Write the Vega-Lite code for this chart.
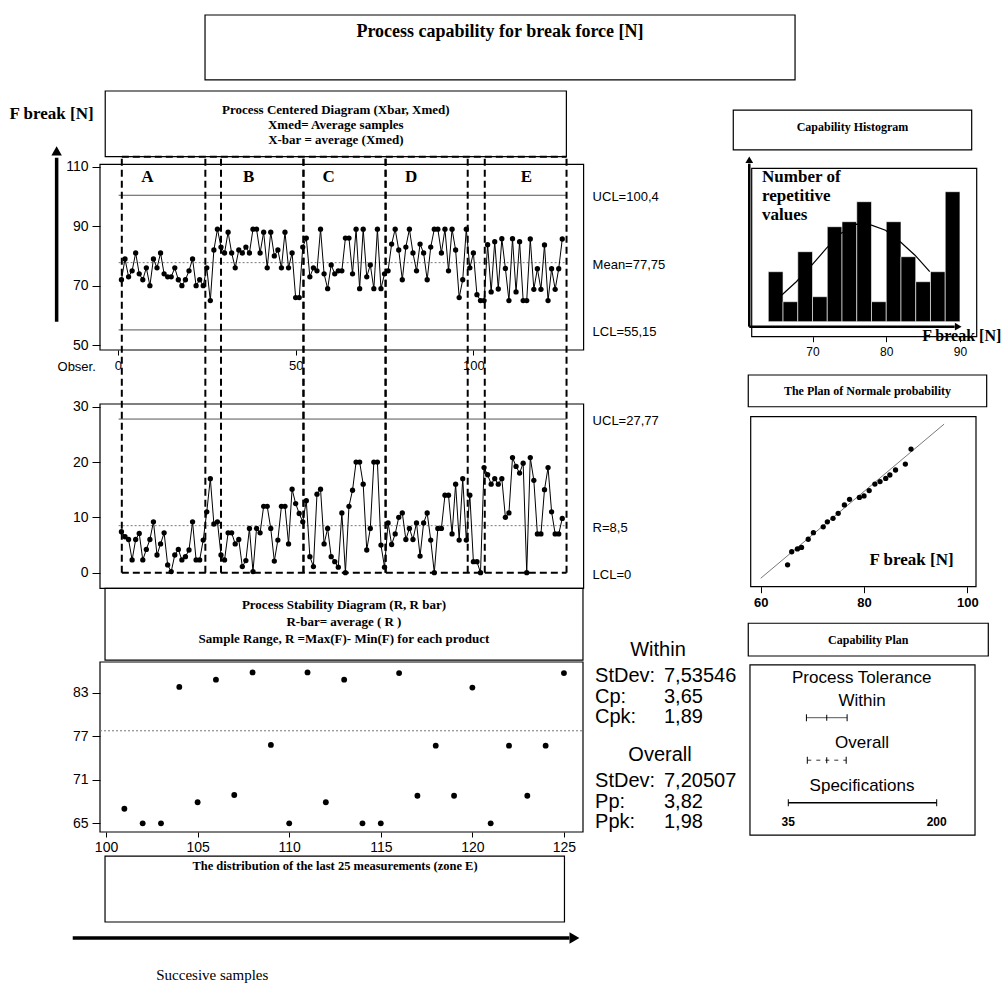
{
  "$schema": "https://vega.github.io/schema/vega-lite/v6.json",
  "width": 1006,
  "height": 986,
  "padding": 0,
  "autosize": {"type": "none"},
  "background": "white",
  "config": {
    "view": {"stroke": null},
    "text": {"font": "Liberation Sans", "color": "black"},
    "axis": {"labelFont": "Liberation Sans", "labelColor": "black", "tickColor": "black", "domain": false, "grid": false}
  },
  "datasets": {
    "blank": [{}],
    "samples": [
      {"obs":1,"xmed":72,"r":7.4},{"obs":2,"xmed":79,"r":6.5},{"obs":3,"xmed":73,"r":6},{"obs":4,"xmed":75,"r":2.3},{"obs":5,"xmed":81,"r":6},
      {"obs":6,"xmed":74,"r":7.1},{"obs":7,"xmed":72,"r":2.3},{"obs":8,"xmed":76,"r":4.2},{"obs":9,"xmed":70,"r":6},{"obs":10,"xmed":79,"r":9.2},
      {"obs":11,"xmed":76,"r":3.2},{"obs":12,"xmed":81,"r":5.2},{"obs":13,"xmed":74,"r":7.2},{"obs":14,"xmed":73,"r":1.4},{"obs":15,"xmed":73,"r":0.2},
      {"obs":16,"xmed":76,"r":3.2},{"obs":17,"xmed":72,"r":4.2},{"obs":18,"xmed":70,"r":2.3},{"obs":19,"xmed":72,"r":2.9},{"obs":20,"xmed":75,"r":4.1},
      {"obs":21,"xmed":79,"r":9.2},{"obs":22,"xmed":70,"r":2.3},{"obs":23,"xmed":72,"r":2.3},{"obs":24,"xmed":70,"r":5.9},{"obs":25,"xmed":76,"r":11},
      {"obs":26,"xmed":65,"r":17},{"obs":27,"xmed":82,"r":8.8},{"obs":28,"xmed":89,"r":9.2},{"obs":29,"xmed":83,"r":3.2},{"obs":30,"xmed":81,"r":2.3},
      {"obs":31,"xmed":88,"r":7.2},{"obs":32,"xmed":81,"r":7.2},{"obs":33,"xmed":76,"r":5.2},{"obs":34,"xmed":82,"r":6},{"obs":35,"xmed":81,"r":1.1},
      {"obs":36,"xmed":83,"r":2.2},{"obs":37,"xmed":81,"r":8},{"obs":38,"xmed":89,"r":0.2},{"obs":39,"xmed":89,"r":8},{"obs":40,"xmed":81,"r":7.2},
      {"obs":41,"xmed":88,"r":12},{"obs":42,"xmed":76,"r":12},{"obs":43,"xmed":88,"r":8},{"obs":44,"xmed":80,"r":2.1},{"obs":45,"xmed":82,"r":5.9},
      {"obs":46,"xmed":76,"r":12},{"obs":47,"xmed":88,"r":12},{"obs":48,"xmed":76,"r":5.2},{"obs":49,"xmed":81,"r":15.1},{"obs":50,"xmed":66,"r":12.5},
      {"obs":51,"xmed":66,"r":10.7},{"obs":52,"xmed":83,"r":9.2},{"obs":53,"xmed":86,"r":13},{"obs":54,"xmed":73,"r":2.9},{"obs":55,"xmed":76,"r":1.1},
      {"obs":56,"xmed":75,"r":14.2},{"obs":57,"xmed":89,"r":15.1},{"obs":58,"xmed":74,"r":5.2},{"obs":59,"xmed":69,"r":8},{"obs":60,"xmed":77,"r":2.9},
      {"obs":61,"xmed":74,"r":2},{"obs":62,"xmed":75,"r":1},{"obs":63,"xmed":75,"r":10.8},{"obs":64,"xmed":86,"r":0},{"obs":65,"xmed":86,"r":12},
      {"obs":66,"xmed":74,"r":14.9},{"obs":67,"xmed":89,"r":20},{"obs":68,"xmed":69,"r":20},{"obs":69,"xmed":89,"r":16},{"obs":70,"xmed":73,"r":4.1},
      {"obs":71,"xmed":77,"r":8},{"obs":72,"xmed":69,"r":20},{"obs":73,"xmed":89,"r":20},{"obs":74,"xmed":69,"r":5},{"obs":75,"xmed":74,"r":1},
      {"obs":76,"xmed":75,"r":9},{"obs":77,"xmed":84,"r":5.1},{"obs":78,"xmed":89,"r":7},{"obs":79,"xmed":82,"r":10},{"obs":80,"xmed":72,"r":10.8},
      {"obs":81,"xmed":83,"r":6},{"obs":82,"xmed":89,"r":8},{"obs":83,"xmed":81,"r":6},{"obs":84,"xmed":75,"r":9},{"obs":85,"xmed":84,"r":3},
      {"obs":86,"xmed":81,"r":9},{"obs":87,"xmed":72,"r":10.8},{"obs":88,"xmed":83,"r":5.9},{"obs":89,"xmed":89,"r":0},{"obs":90,"xmed":89,"r":8},
      {"obs":91,"xmed":81,"r":8},{"obs":92,"xmed":89,"r":14},{"obs":93,"xmed":75,"r":14},{"obs":94,"xmed":89,"r":7},{"obs":95,"xmed":82,"r":16},
      {"obs":96,"xmed":66,"r":5.9},{"obs":97,"xmed":72,"r":17},{"obs":98,"xmed":89,"r":5.9},{"obs":99,"xmed":76,"r":14},{"obs":100,"xmed":81,"r":2},
      {"obs":101,"xmed":67,"r":2},{"obs":102,"xmed":65,"r":0},{"obs":103,"xmed":65,"r":19},{"obs":104,"xmed":83.8,"r":17.7},{"obs":105,"xmed":67.9,"r":16},
      {"obs":106,"xmed":84.8,"r":17},{"obs":107,"xmed":68.9,"r":16},{"obs":108,"xmed":85.8,"r":17},{"obs":109,"xmed":75.8,"r":10},{"obs":110,"xmed":65,"r":10.8},
      {"obs":111,"xmed":85.8,"r":20.8},{"obs":112,"xmed":67.9,"r":19.2},{"obs":113,"xmed":84.8,"r":18},{"obs":114,"xmed":65,"r":19.8},{"obs":115,"xmed":65,"r":0},
      {"obs":116,"xmed":85.7,"r":20.8},{"obs":117,"xmed":68.8,"r":16.7},{"obs":118,"xmed":75.7,"r":7},{"obs":119,"xmed":68.8,"r":7},{"obs":120,"xmed":83.7,"r":15},
      {"obs":121,"xmed":65,"r":19},{"obs":122,"xmed":75.7,"r":11},{"obs":123,"xmed":68.8,"r":7},{"obs":124,"xmed":75.7,"r":7},{"obs":125,"xmed":85.7,"r":9.8}
    ],
    "limits": [
      {"chart":"xbar","name":"UCL","value":100.4,"label":"UCL=100,4"},
      {"chart":"xbar","name":"Mean","value":77.75,"label":"Mean=77,75"},
      {"chart":"xbar","name":"LCL","value":55.15,"label":"LCL=55,15"},
      {"chart":"r","name":"UCL","value":27.77,"label":"UCL=27,77"},
      {"chart":"r","name":"Mean","value":8.5,"label":"R=8,5"},
      {"chart":"r","name":"LCL","value":0,"label":"LCL=0"}
    ],
    "zones": [
      {"zone":"A","from":1.1,"to":24.6,"mid":8.3},
      {"zone":"B","from":29,"to":52.2,"mid":36.8},
      {"zone":"C","from":52.2,"to":75.3,"mid":59.3},
      {"zone":"D","from":75.3,"to":98.4,"mid":82.5},
      {"zone":"E","from":103.2,"to":126.2,"mid":114.9}
    ],
    "hist": [
      {"bin_start":64,"bin_end":66,"count":10},{"bin_start":66,"bin_end":68,"count":4},{"bin_start":68,"bin_end":70,"count":14},
      {"bin_start":70,"bin_end":72,"count":5},{"bin_start":72,"bin_end":74,"count":19},{"bin_start":74,"bin_end":76,"count":20},
      {"bin_start":76,"bin_end":78,"count":24},{"bin_start":78,"bin_end":80,"count":4},{"bin_start":80,"bin_end":82,"count":20},
      {"bin_start":82,"bin_end":84,"count":13},{"bin_start":84,"bin_end":86,"count":8},{"bin_start":86,"bin_end":88,"count":10},
      {"bin_start":88,"bin_end":90,"count":26}
    ],
    "curve": [
      {"fb":65.8,"freq":5.3},{"fb":67.8,"freq":8},{"fb":69.9,"freq":11.3},{"fb":71.9,"freq":14.7},{"fb":73.9,"freq":17.7},
      {"fb":75.9,"freq":19.5},{"fb":78,"freq":19.3},{"fb":79.9,"freq":18.3},{"fb":81.9,"freq":16},{"fb":83.9,"freq":13.3},{"fb":85.9,"freq":10}
    ],
    "normal": [
      {"fb":65.2,"z":-2.04},{"fb":66,"z":-1.62},{"fb":67.1,"z":-1.53},{"fb":67.9,"z":-1.48},{"fb":69.2,"z":-1.22},{"fb":70.2,"z":-1.01},
      {"fb":72.1,"z":-0.82},{"fb":72.9,"z":-0.66},{"fb":74,"z":-0.55},{"fb":75,"z":-0.39},{"fb":76.2,"z":-0.12},{"fb":77.2,"z":0.06},
      {"fb":79.1,"z":0.12},{"fb":80,"z":0.17},{"fb":81,"z":0.34},{"fb":82.1,"z":0.55},{"fb":83.1,"z":0.63},{"fb":84.2,"z":0.73},
      {"fb":85,"z":0.84},{"fb":86.1,"z":1.0},{"fb":88,"z":1.19},{"fb":89.1,"z":1.67}
    ],
    "normline": [{"fb":60,"z":-2.47},{"fb":95.5,"z":2.47}],
    "tolerance": [
      {"kind":"Within","lo":55.15,"mid":77.75,"hi":100.4},
      {"kind":"Overall","lo":56.13,"mid":77.75,"hi":99.37},
      {"kind":"Specifications","lo":35,"hi":200}
    ]
  },
  "layer": [
    {"data":{"name":"blank"},"mark":{"type":"rect","filled":false,"stroke":"black","strokeWidth":1.2},
     "encoding":{"x":{"datum":20.38,"type":"quantitative","scale":{"domain":[0,100],"range":[0,1006],"nice":false,"zero":false},"axis":null},"x2":{"datum":79.03},
                 "y":{"datum":1.52,"type":"quantitative","scale":{"domain":[0,100],"range":[0,986],"nice":false,"zero":false},"axis":null},"y2":{"datum":8.11}}},
    {"data":{"name":"blank"},"mark":{"type":"text","text":"Process capability for break force [N]","font":"Liberation Serif","fontWeight":"bold","fontSize":18,"align":"center","baseline":"middle"},
     "encoding":{"x":{"datum":49.7,"type":"quantitative","scale":{"domain":[0,100],"range":[0,1006],"nice":false,"zero":false},"axis":null},
                 "y":{"datum":3.25,"type":"quantitative","scale":{"domain":[0,100],"range":[0,986],"nice":false,"zero":false},"axis":null}}},
    {"data":{"name":"blank"},"mark":{"type":"text","text":"F break [N]","font":"Liberation Serif","fontWeight":"bold","fontSize":17,"align":"left","baseline":"middle"},
     "encoding":{"x":{"datum":0.95,"type":"quantitative","scale":{"domain":[0,100],"range":[0,1006],"nice":false,"zero":false},"axis":null},
                 "y":{"datum":11.56,"type":"quantitative","scale":{"domain":[0,100],"range":[0,986],"nice":false,"zero":false},"axis":null}}},
    {"data":{"name":"blank"},"mark":{"type":"rule","stroke":"black","strokeWidth":3.5},
     "encoding":{"x":{"datum":5.63,"type":"quantitative","scale":{"domain":[0,100],"range":[0,1006],"nice":false,"zero":false},"axis":null},
                 "y":{"datum":32.63,"type":"quantitative","scale":{"domain":[0,100],"range":[0,986],"nice":false,"zero":false},"axis":null},"y2":{"datum":16.0}}},
    {"data":{"name":"blank"},"mark":{"type":"point","shape":"triangle-up","filled":true,"color":"black","size":110,"opacity":1},
     "encoding":{"x":{"datum":5.63,"type":"quantitative","scale":{"domain":[0,100],"range":[0,1006],"nice":false,"zero":false},"axis":null},
                 "y":{"datum":15.3,"type":"quantitative","scale":{"domain":[0,100],"range":[0,986],"nice":false,"zero":false},"axis":null}}},
    {"data":{"name":"blank"},"mark":{"type":"rect","filled":false,"stroke":"black","strokeWidth":1.2},
     "encoding":{"x":{"datum":10.46,"type":"quantitative","scale":{"domain":[0,100],"range":[0,1006],"nice":false,"zero":false},"axis":null},"x2":{"datum":56.3},
                 "y":{"datum":9.23,"type":"quantitative","scale":{"domain":[0,100],"range":[0,986],"nice":false,"zero":false},"axis":null},"y2":{"datum":15.89}}},
    {"data":{"name":"blank"},"mark":{"type":"text","text":["Process Centered Diagram (Xbar, Xmed)","Xmed= Average samples","X-bar = average (Xmed)"],"font":"Liberation Serif","fontWeight":"bold","fontSize":13,"lineHeight":15,"align":"center","baseline":"middle"},
     "encoding":{"x":{"datum":33.38,"type":"quantitative","scale":{"domain":[0,100],"range":[0,1006],"nice":false,"zero":false},"axis":null},
                 "y":{"datum":11.16,"type":"quantitative","scale":{"domain":[0,100],"range":[0,986],"nice":false,"zero":false},"axis":null}}},
    {"data":{"name":"blank"},"mark":{"type":"text","text":"Obser.","fontSize":13,"align":"center","baseline":"middle"},
     "encoding":{"x":{"datum":7.62,"type":"quantitative","scale":{"domain":[0,100],"range":[0,1006],"nice":false,"zero":false},"axis":null},
                 "y":{"datum":37.19,"type":"quantitative","scale":{"domain":[0,100],"range":[0,986],"nice":false,"zero":false},"axis":null}}},
    {"data":{"name":"blank"},"mark":{"type":"rect","filled":false,"stroke":"black","strokeWidth":1.2},
     "encoding":{"x":{"datum":10.44,"type":"quantitative","scale":{"domain":[0,100],"range":[0,1006],"nice":false,"zero":false},"axis":null},"x2":{"datum":57.95},
                 "y":{"datum":59.67,"type":"quantitative","scale":{"domain":[0,100],"range":[0,986],"nice":false,"zero":false},"axis":null},"y2":{"datum":66.94}}},
    {"data":{"name":"blank"},"mark":{"type":"text","text":["Process Stability Diagram (R, R bar)","R-bar= average ( R )","Sample  Range, R =Max(F)- Min(F) for each product"],"font":"Liberation Serif","fontWeight":"bold","fontSize":13,"lineHeight":17,"align":"center","baseline":"middle"},
     "encoding":{"x":{"datum":34.19,"type":"quantitative","scale":{"domain":[0,100],"range":[0,1006],"nice":false,"zero":false},"axis":null},
                 "y":{"datum":61.36,"type":"quantitative","scale":{"domain":[0,100],"range":[0,986],"nice":false,"zero":false},"axis":null}}},
    {"data":{"name":"blank"},"mark":{"type":"rect","filled":false,"stroke":"black","strokeWidth":1.2},
     "encoding":{"x":{"datum":10.44,"type":"quantitative","scale":{"domain":[0,100],"range":[0,1006],"nice":false,"zero":false},"axis":null},"x2":{"datum":56.11},
                 "y":{"datum":86.82,"type":"quantitative","scale":{"domain":[0,100],"range":[0,986],"nice":false,"zero":false},"axis":null},"y2":{"datum":93.51}}},
    {"data":{"name":"blank"},"mark":{"type":"text","text":"The distribution of the last 25 measurements (zone E)","font":"Liberation Serif","fontWeight":"bold","fontSize":12.5,"align":"center","baseline":"middle"},
     "encoding":{"x":{"datum":33.3,"type":"quantitative","scale":{"domain":[0,100],"range":[0,1006],"nice":false,"zero":false},"axis":null},
                 "y":{"datum":87.83,"type":"quantitative","scale":{"domain":[0,100],"range":[0,986],"nice":false,"zero":false},"axis":null}}},
    {"data":{"name":"blank"},"mark":{"type":"rule","stroke":"black","strokeWidth":3.5},
     "encoding":{"x":{"datum":7.23,"type":"quantitative","scale":{"domain":[0,100],"range":[0,1006],"nice":false,"zero":false},"axis":null},"x2":{"datum":56.6},
                 "y":{"datum":95.13,"type":"quantitative","scale":{"domain":[0,100],"range":[0,986],"nice":false,"zero":false},"axis":null}}},
    {"data":{"name":"blank"},"mark":{"type":"point","shape":"triangle-right","filled":true,"color":"black","size":130,"opacity":1},
     "encoding":{"x":{"datum":57.1,"type":"quantitative","scale":{"domain":[0,100],"range":[0,1006],"nice":false,"zero":false},"axis":null},
                 "y":{"datum":95.13,"type":"quantitative","scale":{"domain":[0,100],"range":[0,986],"nice":false,"zero":false},"axis":null}}},
    {"data":{"name":"blank"},"mark":{"type":"text","text":"Succesive samples","font":"Liberation Serif","fontSize":15,"align":"center","baseline":"middle"},
     "encoding":{"x":{"datum":21.1,"type":"quantitative","scale":{"domain":[0,100],"range":[0,1006],"nice":false,"zero":false},"axis":null},
                 "y":{"datum":98.9,"type":"quantitative","scale":{"domain":[0,100],"range":[0,986],"nice":false,"zero":false},"axis":null}}},
    {"data":{"name":"blank"},"mark":{"type":"text","text":"Within","fontSize":20,"align":"center","baseline":"middle"},
     "encoding":{"x":{"datum":65.41,"type":"quantitative","scale":{"domain":[0,100],"range":[0,1006],"nice":false,"zero":false},"axis":null},
                 "y":{"datum":65.92,"type":"quantitative","scale":{"domain":[0,100],"range":[0,986],"nice":false,"zero":false},"axis":null}}},
    {"data":{"name":"blank"},"mark":{"type":"text","text":["StDev:","Cp:","Cpk:"],"fontSize":20,"lineHeight":20.5,"align":"left","baseline":"middle"},
     "encoding":{"x":{"datum":59.15,"type":"quantitative","scale":{"domain":[0,100],"range":[0,1006],"nice":false,"zero":false},"axis":null},
                 "y":{"datum":68.56,"type":"quantitative","scale":{"domain":[0,100],"range":[0,986],"nice":false,"zero":false},"axis":null}}},
    {"data":{"name":"blank"},"mark":{"type":"text","text":["7,53546","3,65","1,89"],"fontSize":20,"lineHeight":20.5,"align":"left","baseline":"middle"},
     "encoding":{"x":{"datum":66.0,"type":"quantitative","scale":{"domain":[0,100],"range":[0,1006],"nice":false,"zero":false},"axis":null},
                 "y":{"datum":68.56,"type":"quantitative","scale":{"domain":[0,100],"range":[0,986],"nice":false,"zero":false},"axis":null}}},
    {"data":{"name":"blank"},"mark":{"type":"text","text":"Overall","fontSize":20,"align":"center","baseline":"middle"},
     "encoding":{"x":{"datum":65.61,"type":"quantitative","scale":{"domain":[0,100],"range":[0,1006],"nice":false,"zero":false},"axis":null},
                 "y":{"datum":76.57,"type":"quantitative","scale":{"domain":[0,100],"range":[0,986],"nice":false,"zero":false},"axis":null}}},
    {"data":{"name":"blank"},"mark":{"type":"text","text":["StDev:","Pp:","Ppk:"],"fontSize":20,"lineHeight":20.5,"align":"left","baseline":"middle"},
     "encoding":{"x":{"datum":59.15,"type":"quantitative","scale":{"domain":[0,100],"range":[0,1006],"nice":false,"zero":false},"axis":null},
                 "y":{"datum":79.21,"type":"quantitative","scale":{"domain":[0,100],"range":[0,986],"nice":false,"zero":false},"axis":null}}},
    {"data":{"name":"blank"},"mark":{"type":"text","text":["7,20507","3,82","1,98"],"fontSize":20,"lineHeight":20.5,"align":"left","baseline":"middle"},
     "encoding":{"x":{"datum":66.0,"type":"quantitative","scale":{"domain":[0,100],"range":[0,1006],"nice":false,"zero":false},"axis":null},
                 "y":{"datum":79.21,"type":"quantitative","scale":{"domain":[0,100],"range":[0,986],"nice":false,"zero":false},"axis":null}}},
    {"data":{"name":"blank"},"mark":{"type":"rect","filled":false,"stroke":"black","strokeWidth":1.2},
     "encoding":{"x":{"datum":72.89,"type":"quantitative","scale":{"domain":[0,100],"range":[0,1006],"nice":false,"zero":false},"axis":null},"x2":{"datum":96.59},
                 "y":{"datum":11.16,"type":"quantitative","scale":{"domain":[0,100],"range":[0,986],"nice":false,"zero":false},"axis":null},"y2":{"datum":15.21}}},
    {"data":{"name":"blank"},"mark":{"type":"text","text":"Capability Histogram","font":"Liberation Serif","fontWeight":"bold","fontSize":12,"align":"center","baseline":"middle"},
     "encoding":{"x":{"datum":84.74,"type":"quantitative","scale":{"domain":[0,100],"range":[0,1006],"nice":false,"zero":false},"axis":null},
                 "y":{"datum":12.88,"type":"quantitative","scale":{"domain":[0,100],"range":[0,986],"nice":false,"zero":false},"axis":null}}},
    {"data":{"name":"blank"},"mark":{"type":"rule","stroke":"black","strokeWidth":2.5},
     "encoding":{"x":{"datum":74.48,"type":"quantitative","scale":{"domain":[0,100],"range":[0,1006],"nice":false,"zero":false},"axis":null},
                 "y":{"datum":33.13,"type":"quantitative","scale":{"domain":[0,100],"range":[0,986],"nice":false,"zero":false},"axis":null},"y2":{"datum":16.6}}},
    {"data":{"name":"blank"},"mark":{"type":"point","shape":"triangle-up","filled":true,"color":"black","size":60,"opacity":1},
     "encoding":{"x":{"datum":74.48,"type":"quantitative","scale":{"domain":[0,100],"range":[0,1006],"nice":false,"zero":false},"axis":null},
                 "y":{"datum":16.2,"type":"quantitative","scale":{"domain":[0,100],"range":[0,986],"nice":false,"zero":false},"axis":null}}},
    {"data":{"name":"blank"},"mark":{"type":"rule","stroke":"black","strokeWidth":2.5},
     "encoding":{"x":{"datum":74.48,"type":"quantitative","scale":{"domain":[0,100],"range":[0,1006],"nice":false,"zero":false},"axis":null},"x2":{"datum":94.9},
                 "y":{"datum":33.13,"type":"quantitative","scale":{"domain":[0,100],"range":[0,986],"nice":false,"zero":false},"axis":null}}},
    {"data":{"name":"blank"},"mark":{"type":"point","shape":"triangle-right","filled":true,"color":"black","size":60,"opacity":1},
     "encoding":{"x":{"datum":95.25,"type":"quantitative","scale":{"domain":[0,100],"range":[0,1006],"nice":false,"zero":false},"axis":null},
                 "y":{"datum":33.13,"type":"quantitative","scale":{"domain":[0,100],"range":[0,986],"nice":false,"zero":false},"axis":null}}},
    {"data":{"name":"blank"},"mark":{"type":"text","text":["Number of","repetitive","values"],"font":"Liberation Serif","fontWeight":"bold","fontSize":17,"lineHeight":19,"align":"left","baseline":"middle"},
     "encoding":{"x":{"datum":75.75,"type":"quantitative","scale":{"domain":[0,100],"range":[0,1006],"nice":false,"zero":false},"axis":null},
                 "y":{"datum":17.92,"type":"quantitative","scale":{"domain":[0,100],"range":[0,986],"nice":false,"zero":false},"axis":null}}},
    {"data":{"name":"blank"},"mark":{"type":"text","text":"F break [N]","font":"Liberation Serif","fontWeight":"bold","fontSize":16,"align":"center","baseline":"middle"},
     "encoding":{"x":{"datum":95.6,"type":"quantitative","scale":{"domain":[0,100],"range":[0,1006],"nice":false,"zero":false},"axis":null},
                 "y":{"datum":34.08,"type":"quantitative","scale":{"domain":[0,100],"range":[0,986],"nice":false,"zero":false},"axis":null}}},
    {"data":{"name":"blank"},"mark":{"type":"rect","filled":false,"stroke":"black","strokeWidth":1.2},
     "encoding":{"x":{"datum":74.38,"type":"quantitative","scale":{"domain":[0,100],"range":[0,1006],"nice":false,"zero":false},"axis":null},"x2":{"datum":98.08},
                 "y":{"datum":38.03,"type":"quantitative","scale":{"domain":[0,100],"range":[0,986],"nice":false,"zero":false},"axis":null},"y2":{"datum":41.25}}},
    {"data":{"name":"blank"},"mark":{"type":"text","text":"The Plan of  Normale probability","font":"Liberation Serif","fontWeight":"bold","fontSize":12,"align":"center","baseline":"middle"},
     "encoding":{"x":{"datum":86.23,"type":"quantitative","scale":{"domain":[0,100],"range":[0,1006],"nice":false,"zero":false},"axis":null},
                 "y":{"datum":39.66,"type":"quantitative","scale":{"domain":[0,100],"range":[0,986],"nice":false,"zero":false},"axis":null}}},
    {"data":{"name":"blank"},"mark":{"type":"rect","filled":false,"stroke":"black","strokeWidth":1.2},
     "encoding":{"x":{"datum":74.38,"type":"quantitative","scale":{"domain":[0,100],"range":[0,1006],"nice":false,"zero":false},"axis":null},"x2":{"datum":98.24},
                 "y":{"datum":63.21,"type":"quantitative","scale":{"domain":[0,100],"range":[0,986],"nice":false,"zero":false},"axis":null},"y2":{"datum":66.53}}},
    {"data":{"name":"blank"},"mark":{"type":"text","text":"Capability Plan","font":"Liberation Serif","fontWeight":"bold","fontSize":12,"align":"center","baseline":"middle"},
     "encoding":{"x":{"datum":86.31,"type":"quantitative","scale":{"domain":[0,100],"range":[0,1006],"nice":false,"zero":false},"axis":null},
                 "y":{"datum":64.91,"type":"quantitative","scale":{"domain":[0,100],"range":[0,986],"nice":false,"zero":false},"axis":null}}},
    {"data":{"name":"blank"},"mark":{"type":"rect","filled":false,"stroke":"black","strokeWidth":1.2},
     "encoding":{"x":{"datum":74.55,"type":"quantitative","scale":{"domain":[0,100],"range":[0,1006],"nice":false,"zero":false},"axis":null},"x2":{"datum":96.92},
                 "y":{"datum":67.44,"type":"quantitative","scale":{"domain":[0,100],"range":[0,986],"nice":false,"zero":false},"axis":null},"y2":{"datum":84.69}}},
    {"data":{"name":"blank"},"mark":{"type":"text","text":"Process Tolerance","fontSize":17,"align":"center","baseline":"middle"},
     "encoding":{"x":{"datum":85.66,"type":"quantitative","scale":{"domain":[0,100],"range":[0,1006],"nice":false,"zero":false},"axis":null},
                 "y":{"datum":68.79,"type":"quantitative","scale":{"domain":[0,100],"range":[0,986],"nice":false,"zero":false},"axis":null}}},

    {"data":{"name":"blank"},"mark":{"type":"rect","filled":false,"stroke":"black","strokeWidth":1.2},
     "encoding":{"x":{"datum":-5.035,"type":"quantitative","scale":{"domain":[-5.035,131.0],"range":[100,583.6],"nice":false,"zero":false},"axis":null},"x2":{"datum":131.0},
                 "y":{"datum":48.4,"type":"quantitative","scale":{"domain":[48.4,110.8],"range":[350,164.3],"nice":false,"zero":false},"axis":null},"y2":{"datum":110.8}}},
    {"data":{"name":"limits"},"transform":[{"filter":"datum.chart === 'xbar' && datum.name !== 'Mean'"}],
     "mark":{"type":"rule","stroke":"#555555","strokeWidth":1},
     "encoding":{"x":{"datum":0.2,"type":"quantitative","scale":{"domain":[-5.035,131.0],"range":[100,583.6],"nice":false,"zero":false},"axis":null},"x2":{"datum":126.2},
                 "y":{"field":"value","type":"quantitative","scale":{"domain":[48.4,110.8],"range":[350,164.3],"nice":false,"zero":false},"axis":null}}},
    {"data":{"name":"limits"},"transform":[{"filter":"datum.chart === 'xbar' && datum.name === 'Mean'"}],
     "mark":{"type":"rule","stroke":"#777777","strokeWidth":1,"strokeDash":[2,2]},
     "encoding":{"x":{"datum":0.2,"type":"quantitative","scale":{"domain":[-5.035,131.0],"range":[100,583.6],"nice":false,"zero":false},"axis":null},"x2":{"datum":126.2},
                 "y":{"field":"value","type":"quantitative","scale":{"domain":[48.4,110.8],"range":[350,164.3],"nice":false,"zero":false},"axis":null}}},
    {"data":{"name":"samples"},"mark":{"type":"line","stroke":"black","strokeWidth":1},
     "encoding":{"x":{"field":"obs","type":"quantitative","scale":{"domain":[-5.035,131.0],"range":[100,583.6],"nice":false,"zero":false},
                      "axis":{"orient":"bottom","offset":-636,"values":[0,50,100],"title":null,"tickSize":5,"labelPadding":4,"labelFontSize":13}},
                 "y":{"field":"xmed","type":"quantitative","scale":{"domain":[48.4,110.8],"range":[350,164.3],"nice":false,"zero":false},
                      "axis":{"orient":"left","offset":-100,"values":[50,70,90,110],"title":null,"tickSize":8,"labelPadding":4,"labelFontSize":14}}}},
    {"data":{"name":"samples"},"mark":{"type":"point","filled":true,"color":"black","size":28,"opacity":1},
     "encoding":{"x":{"field":"obs","type":"quantitative","scale":{"domain":[-5.035,131.0],"range":[100,583.6],"nice":false,"zero":false},"axis":null},
                 "y":{"field":"xmed","type":"quantitative","scale":{"domain":[48.4,110.8],"range":[350,164.3],"nice":false,"zero":false},"axis":null}}},
    {"data":{"name":"zones"},"mark":{"type":"text","font":"Liberation Serif","fontWeight":"bold","fontSize":17,"align":"center","baseline":"middle"},
     "encoding":{"x":{"field":"mid","type":"quantitative","scale":{"domain":[-5.035,131.0],"range":[100,583.6],"nice":false,"zero":false},"axis":null},
                 "y":{"datum":106.64,"type":"quantitative","scale":{"domain":[48.4,110.8],"range":[350,164.3],"nice":false,"zero":false},"axis":null},"text":{"field":"zone"}}},
    {"data":{"name":"limits"},"transform":[{"filter":"datum.chart === 'xbar'"}],
     "mark":{"type":"text","fontSize":13,"align":"left","baseline":"middle","dx":9,"dy":2},
     "encoding":{"x":{"datum":131.0,"type":"quantitative","scale":{"domain":[-5.035,131.0],"range":[100,583.6],"nice":false,"zero":false},"axis":null},
                 "y":{"field":"value","type":"quantitative","scale":{"domain":[48.4,110.8],"range":[350,164.3],"nice":false,"zero":false},"axis":null},"text":{"field":"label"}}},

    {"data":{"name":"blank"},"mark":{"type":"rect","filled":false,"stroke":"black","strokeWidth":1.2},
     "encoding":{"x":{"datum":-5.035,"type":"quantitative","scale":{"domain":[-5.035,131.0],"range":[100,583.6],"nice":false,"zero":false},"axis":null},"x2":{"datum":131.0},
                 "y":{"datum":-2.82,"type":"quantitative","scale":{"domain":[-2.82,30.49],"range":[588.3,404],"nice":false,"zero":false},"axis":null},"y2":{"datum":30.49}}},
    {"data":{"name":"limits"},"transform":[{"filter":"datum.chart === 'r' && datum.name === 'UCL'"}],
     "mark":{"type":"rule","stroke":"#555555","strokeWidth":1},
     "encoding":{"x":{"datum":0.2,"type":"quantitative","scale":{"domain":[-5.035,131.0],"range":[100,583.6],"nice":false,"zero":false},"axis":null},"x2":{"datum":126.2},
                 "y":{"field":"value","type":"quantitative","scale":{"domain":[-2.82,30.49],"range":[588.3,404],"nice":false,"zero":false},"axis":null}}},
    {"data":{"name":"limits"},"transform":[{"filter":"datum.chart === 'r' && datum.name === 'Mean'"}],
     "mark":{"type":"rule","stroke":"#777777","strokeWidth":1,"strokeDash":[2,2]},
     "encoding":{"x":{"datum":0.2,"type":"quantitative","scale":{"domain":[-5.035,131.0],"range":[100,583.6],"nice":false,"zero":false},"axis":null},"x2":{"datum":126.2},
                 "y":{"field":"value","type":"quantitative","scale":{"domain":[-2.82,30.49],"range":[588.3,404],"nice":false,"zero":false},"axis":null}}},
    {"data":{"name":"zones"},"mark":{"type":"rule","stroke":"black","strokeWidth":2,"strokeDash":[7,4]},
     "encoding":{"x":{"field":"from","type":"quantitative","scale":{"domain":[-5.035,131.0],"range":[100,583.6],"nice":false,"zero":false},"axis":null},
                 "y":{"datum":0,"type":"quantitative","scale":{"domain":[-2.82,30.49],"range":[588.3,404],"nice":false,"zero":false},"axis":null},"y2":{"datum":75.18}}},
    {"data":{"name":"zones"},"mark":{"type":"rule","stroke":"black","strokeWidth":2,"strokeDash":[7,4]},
     "encoding":{"x":{"field":"to","type":"quantitative","scale":{"domain":[-5.035,131.0],"range":[100,583.6],"nice":false,"zero":false},"axis":null},
                 "y":{"datum":0,"type":"quantitative","scale":{"domain":[-2.82,30.49],"range":[588.3,404],"nice":false,"zero":false},"axis":null},"y2":{"datum":75.18}}},
    {"data":{"name":"blank"},"mark":{"type":"rule","stroke":"black","strokeWidth":2,"strokeDash":[7,4]},
     "encoding":{"x":{"datum":1.1,"type":"quantitative","scale":{"domain":[-5.035,131.0],"range":[100,583.6],"nice":false,"zero":false},"axis":null},"x2":{"datum":126.2},
                 "y":{"datum":75.18,"type":"quantitative","scale":{"domain":[-2.82,30.49],"range":[588.3,404],"nice":false,"zero":false},"axis":null}}},
    {"data":{"name":"blank"},"mark":{"type":"rule","stroke":"black","strokeWidth":2,"strokeDash":[7,4]},
     "encoding":{"x":{"datum":1.1,"type":"quantitative","scale":{"domain":[-5.035,131.0],"range":[100,583.6],"nice":false,"zero":false},"axis":null},"x2":{"datum":126.2},
                 "y":{"datum":0,"type":"quantitative","scale":{"domain":[-2.82,30.49],"range":[588.3,404],"nice":false,"zero":false},"axis":null}}},
    {"data":{"name":"samples"},"mark":{"type":"line","stroke":"black","strokeWidth":1},
     "encoding":{"x":{"field":"obs","type":"quantitative","scale":{"domain":[-5.035,131.0],"range":[100,583.6],"nice":false,"zero":false},"axis":null},
                 "y":{"field":"r","type":"quantitative","scale":{"domain":[-2.82,30.49],"range":[588.3,404],"nice":false,"zero":false},
                      "axis":{"orient":"left","offset":-100,"values":[0,10,20,30],"title":null,"tickSize":8,"labelPadding":4,"labelFontSize":14}}}},
    {"data":{"name":"samples"},"mark":{"type":"point","filled":true,"color":"black","size":28,"opacity":1},
     "encoding":{"x":{"field":"obs","type":"quantitative","scale":{"domain":[-5.035,131.0],"range":[100,583.6],"nice":false,"zero":false},"axis":null},
                 "y":{"field":"r","type":"quantitative","scale":{"domain":[-2.82,30.49],"range":[588.3,404],"nice":false,"zero":false},"axis":null}}},
    {"data":{"name":"limits"},"transform":[{"filter":"datum.chart === 'r'"}],
     "mark":{"type":"text","fontSize":13,"align":"left","baseline":"middle","dx":9,"dy":2},
     "encoding":{"x":{"datum":131.0,"type":"quantitative","scale":{"domain":[-5.035,131.0],"range":[100,583.6],"nice":false,"zero":false},"axis":null},
                 "y":{"field":"value","type":"quantitative","scale":{"domain":[-2.82,30.49],"range":[588.3,404],"nice":false,"zero":false},"axis":null},"text":{"field":"label"}}},

    {"data":{"name":"blank"},"mark":{"type":"rect","filled":false,"stroke":"black","strokeWidth":1.2},
     "encoding":{"x":{"datum":99.67,"type":"quantitative","scale":{"domain":[99.67,126.04],"range":[100,583],"nice":false,"zero":false},"axis":null},"x2":{"datum":126.04},
                 "y":{"datum":63.8,"type":"quantitative","scale":{"domain":[63.8,87.23],"range":[832,662],"nice":false,"zero":false},"axis":null},"y2":{"datum":87.23}}},
    {"data":{"name":"blank"},"mark":{"type":"rule","stroke":"#777777","strokeWidth":1,"strokeDash":[2,2]},
     "encoding":{"x":{"datum":99.67,"type":"quantitative","scale":{"domain":[99.67,126.04],"range":[100,583],"nice":false,"zero":false},"axis":null},"x2":{"datum":126.04},
                 "y":{"datum":77.75,"type":"quantitative","scale":{"domain":[63.8,87.23],"range":[832,662],"nice":false,"zero":false},"axis":null}}},
    {"data":{"name":"samples"},"transform":[{"filter":"datum.obs > 100"}],
     "mark":{"type":"point","filled":true,"color":"black","size":34,"opacity":1},
     "encoding":{"x":{"field":"obs","type":"quantitative","scale":{"domain":[99.67,126.04],"range":[100,583],"nice":false,"zero":false},
                      "axis":{"orient":"bottom","offset":-154,"values":[100,105,110,115,120,125],"title":null,"tickSize":5,"labelPadding":3,"labelFontSize":14}},
                 "y":{"field":"xmed","type":"quantitative","scale":{"domain":[63.8,87.23],"range":[832,662],"nice":false,"zero":false},
                      "axis":{"orient":"left","offset":-100,"values":[65,71,77,83],"title":null,"tickSize":8,"labelPadding":4,"labelFontSize":14}}}},

    {"data":{"name":"blank"},"mark":{"type":"rect","filled":false,"stroke":"black","strokeWidth":1.2},
     "encoding":{"x":{"datum":61.75,"type":"quantitative","scale":{"domain":[61.75,92.27],"range":[751.7,976.7],"nice":false,"zero":false},"axis":null},"x2":{"datum":92.27},
                 "y":{"datum":-3,"type":"quantitative","scale":{"domain":[-3,30.68],"range":[336.7,168.3],"nice":false,"zero":false},"axis":null},"y2":{"datum":30.68}}},
    {"data":{"name":"hist"},"mark":{"type":"rect","color":"black","stroke":"white","strokeWidth":0.6},
     "encoding":{"x":{"field":"bin_start","type":"quantitative","scale":{"domain":[61.75,92.27],"range":[751.7,976.7],"nice":false,"zero":false},
                      "axis":{"orient":"bottom","offset":-649.3,"values":[70,80,90],"title":null,"tickSize":5,"labelPadding":5,"labelFontSize":12}},
                 "x2":{"field":"bin_end"},
                 "y":{"field":"count","type":"quantitative","scale":{"domain":[-3,30.68],"range":[336.7,168.3],"nice":false,"zero":false},"axis":null},"y2":{"datum":0}}},
    {"data":{"name":"curve"},"mark":{"type":"line","stroke":"black","strokeWidth":1.2},
     "encoding":{"x":{"field":"fb","type":"quantitative","scale":{"domain":[61.75,92.27],"range":[751.7,976.7],"nice":false,"zero":false},"axis":null},
                 "y":{"field":"freq","type":"quantitative","scale":{"domain":[-3,30.68],"range":[336.7,168.3],"nice":false,"zero":false},"axis":null}}},

    {"data":{"name":"blank"},"mark":{"type":"rect","filled":false,"stroke":"black","strokeWidth":1.2},
     "encoding":{"x":{"datum":58.06,"type":"quantitative","scale":{"domain":[58.06,101.68],"range":[750.7,976],"nice":false,"zero":false},"axis":null},"x2":{"datum":101.68},
                 "y":{"datum":-2.74,"type":"quantitative","scale":{"domain":[-2.74,2.708],"range":[586.7,416.7],"nice":false,"zero":false},"axis":null},"y2":{"datum":2.708}}},
    {"data":{"name":"normline"},"mark":{"type":"line","stroke":"#555555","strokeWidth":0.8},
     "encoding":{"x":{"field":"fb","type":"quantitative","scale":{"domain":[58.06,101.68],"range":[750.7,976],"nice":false,"zero":false},"axis":null},
                 "y":{"field":"z","type":"quantitative","scale":{"domain":[-2.74,2.708],"range":[586.7,416.7],"nice":false,"zero":false},"axis":null}}},
    {"data":{"name":"normal"},"mark":{"type":"point","filled":true,"color":"black","size":28,"opacity":1},
     "encoding":{"x":{"field":"fb","type":"quantitative","scale":{"domain":[58.06,101.68],"range":[750.7,976],"nice":false,"zero":false},
                      "axis":{"orient":"bottom","offset":-399.3,"values":[60,80,100],"title":null,"tickSize":6,"labelPadding":4,"labelFontSize":13,"labelFontWeight":"bold"}},
                 "y":{"field":"z","type":"quantitative","scale":{"domain":[-2.74,2.708],"range":[586.7,416.7],"nice":false,"zero":false},"axis":null}}},
    {"data":{"name":"blank"},"mark":{"type":"text","text":"F break [N]","font":"Liberation Serif","fontWeight":"bold","fontSize":17,"align":"center","baseline":"middle"},
     "encoding":{"x":{"datum":89.2,"type":"quantitative","scale":{"domain":[58.06,101.68],"range":[750.7,976],"nice":false,"zero":false},"axis":null},
                 "y":{"datum":-1.885,"type":"quantitative","scale":{"domain":[-2.74,2.708],"range":[586.7,416.7],"nice":false,"zero":false},"axis":null}}},

    {"data":{"name":"tolerance"},"transform":[{"filter":"datum.kind === 'Within'"}],
     "mark":{"type":"rule","stroke":"#555555","strokeWidth":1},
     "encoding":{"x":{"field":"lo","type":"quantitative","scale":{"domain":[-7.58,242.6],"range":[750,975],"nice":false,"zero":false},"axis":null},"x2":{"field":"hi"},
                 "y":{"field":"kind","type":"nominal","scale":{"type":"point","domain":["Within","Overall","Specifications"],"range":[717.7,802.7],"padding":0},"axis":null}}},
    {"data":{"name":"tolerance"},"transform":[{"filter":"datum.kind === 'Overall'"}],
     "mark":{"type":"rule","stroke":"#333333","strokeWidth":1,"strokeDash":[4,5]},
     "encoding":{"x":{"field":"lo","type":"quantitative","scale":{"domain":[-7.58,242.6],"range":[750,975],"nice":false,"zero":false},"axis":null},"x2":{"field":"hi"},
                 "y":{"field":"kind","type":"nominal","scale":{"type":"point","domain":["Within","Overall","Specifications"],"range":[717.7,802.7],"padding":0},"axis":null}}},
    {"data":{"name":"tolerance"},"transform":[{"filter":"datum.kind === 'Specifications'"}],
     "mark":{"type":"rule","stroke":"black","strokeWidth":1.5},
     "encoding":{"x":{"field":"lo","type":"quantitative","scale":{"domain":[-7.58,242.6],"range":[750,975],"nice":false,"zero":false},"axis":null},"x2":{"field":"hi"},
                 "y":{"field":"kind","type":"nominal","scale":{"type":"point","domain":["Within","Overall","Specifications"],"range":[717.7,802.7],"padding":0},"axis":null}}},
    {"data":{"name":"tolerance"},"mark":{"type":"tick","orient":"vertical","color":"black","size":7,"thickness":1,"opacity":1},
     "encoding":{"x":{"field":"lo","type":"quantitative","scale":{"domain":[-7.58,242.6],"range":[750,975],"nice":false,"zero":false},"axis":null},
                 "y":{"field":"kind","type":"nominal","scale":{"type":"point","domain":["Within","Overall","Specifications"],"range":[717.7,802.7],"padding":0},"axis":null}}},
    {"data":{"name":"tolerance"},"mark":{"type":"tick","orient":"vertical","color":"black","size":7,"thickness":1,"opacity":1},
     "encoding":{"x":{"field":"hi","type":"quantitative","scale":{"domain":[-7.58,242.6],"range":[750,975],"nice":false,"zero":false},"axis":null},
                 "y":{"field":"kind","type":"nominal","scale":{"type":"point","domain":["Within","Overall","Specifications"],"range":[717.7,802.7],"padding":0},"axis":null}}},
    {"data":{"name":"tolerance"},"mark":{"type":"tick","orient":"vertical","color":"black","size":6,"thickness":1,"opacity":1},
     "encoding":{"x":{"field":"mid","type":"quantitative","scale":{"domain":[-7.58,242.6],"range":[750,975],"nice":false,"zero":false},"axis":null},
                 "y":{"field":"kind","type":"nominal","scale":{"type":"point","domain":["Within","Overall","Specifications"],"range":[717.7,802.7],"padding":0},"axis":null}}},
    {"data":{"name":"tolerance"},"mark":{"type":"text","fontSize":17,"align":"center","baseline":"middle","dy":-17},
     "encoding":{"x":{"datum":117,"type":"quantitative","scale":{"domain":[-7.58,242.6],"range":[750,975],"nice":false,"zero":false},"axis":null},
                 "y":{"field":"kind","type":"nominal","scale":{"type":"point","domain":["Within","Overall","Specifications"],"range":[717.7,802.7],"padding":0},"axis":null},"text":{"field":"kind"}}},
    {"data":{"name":"tolerance"},"transform":[{"filter":"datum.kind === 'Specifications'"}],
     "mark":{"type":"text","fontSize":12,"fontWeight":"bold","align":"center","baseline":"middle","dy":19},
     "encoding":{"x":{"field":"lo","type":"quantitative","scale":{"domain":[-7.58,242.6],"range":[750,975],"nice":false,"zero":false},"axis":null},
                 "y":{"field":"kind","type":"nominal","scale":{"type":"point","domain":["Within","Overall","Specifications"],"range":[717.7,802.7],"padding":0},"axis":null},"text":{"field":"lo"}}},
    {"data":{"name":"tolerance"},"transform":[{"filter":"datum.kind === 'Specifications'"}],
     "mark":{"type":"text","fontSize":12,"fontWeight":"bold","align":"center","baseline":"middle","dy":19},
     "encoding":{"x":{"field":"hi","type":"quantitative","scale":{"domain":[-7.58,242.6],"range":[750,975],"nice":false,"zero":false},"axis":null},
                 "y":{"field":"kind","type":"nominal","scale":{"type":"point","domain":["Within","Overall","Specifications"],"range":[717.7,802.7],"padding":0},"axis":null},"text":{"field":"hi"}}}
  ],
  "resolve": {"scale": {"x":"independent","y":"independent"}, "axis": {"x":"independent","y":"independent"}}
}
